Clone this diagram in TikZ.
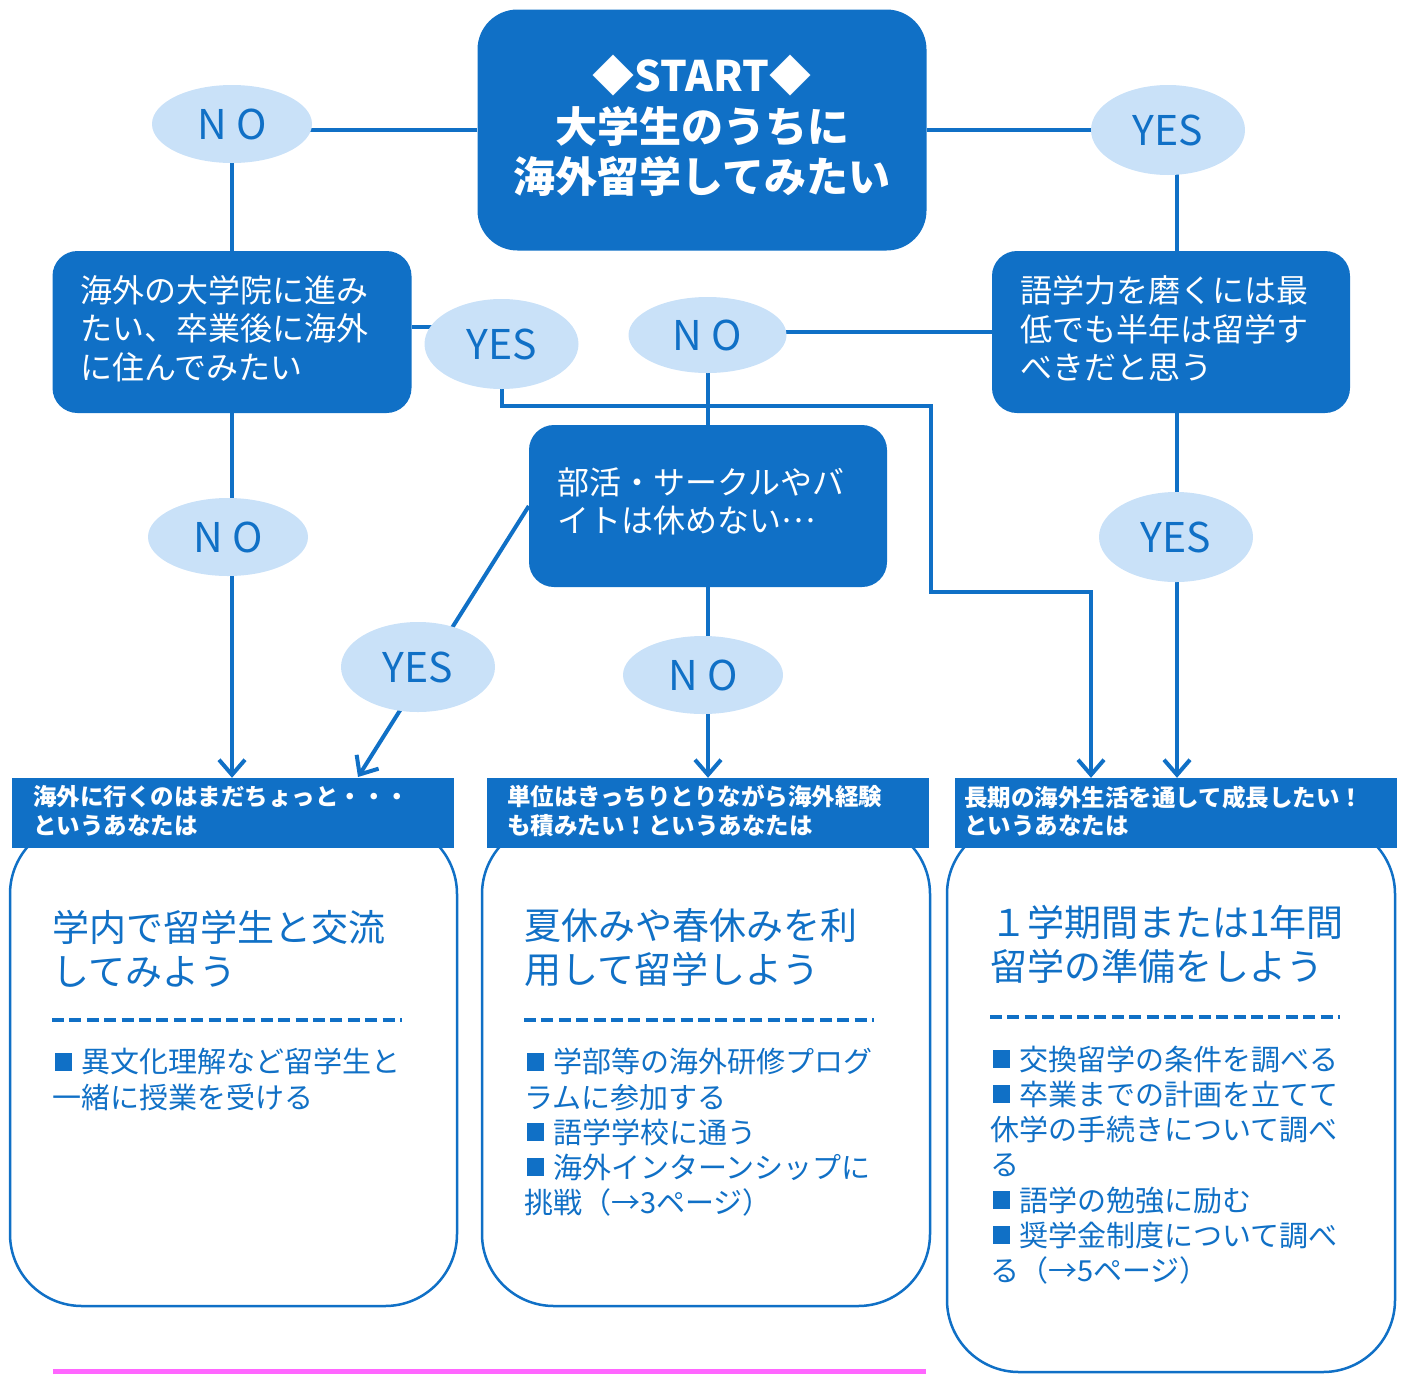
\documentclass[tikz,border=0pt]{standalone}
\usepackage{fontspec}
\setmainfont{Noto Sans CJK JP}
\usetikzlibrary{shapes.geometric,arrows.meta,backgrounds}
\definecolor{mblue}{RGB}{16,112,198}
\definecolor{lblue}{RGB}{201,225,248}
\definecolor{pinkline}{RGB}{255,102,255}
\newcommand\sqb{\makebox[29pt][l]{\hspace{3pt}\rule[2.2pt]{17pt}{18pt}}}
\newcommand\middots{\raisebox{10pt}{…}}
\begin{document}
\begin{tikzpicture}[x=1pt,y=-1pt,
  conn/.style={mblue,line width=4pt},
  arr/.style={conn,-{Straight Barb[length=15pt,width=26pt]}},
  ans/.style={ellipse,fill=lblue,inner sep=0pt,text=mblue,font=\fontsize{41}{48}\selectfont},
  qbox/.style={rectangle,rounded corners=25pt,fill=mblue,inner sep=0pt},
  qtext/.style={text=white,align=left,inner sep=0pt,anchor=west,font=\fontsize{32}{38.5}\selectfont},
  hbox/.style={rectangle,fill=mblue,inner sep=0pt,minimum width=442pt,minimum height=70pt},
  htext/.style={text=white,align=left,inner sep=0pt,anchor=west,font=\bfseries\fontsize{23.5}{28.5}\selectfont},
  body/.style={draw=mblue,line width=2.5pt,rounded corners=72pt,fill=white,inner sep=0pt},
  ttext/.style={text=mblue,align=left,inner sep=0pt,anchor=west,font=\fontsize{37}{44}\selectfont},
  btext/.style={text=mblue,align=left,inner sep=0pt,anchor=west,font=\fontsize{29}{35.2}\selectfont},
  dashln/.style={mblue,line width=3.5pt,dash pattern=on 12pt off 5.4pt},
]
\useasboundingbox (0,0) rectangle (1407,1374);

% start
\node[qbox,minimum width=449pt,minimum height=241pt,rounded corners=40pt] (start) at (702,130) {};
\node[text=white,align=center,inner sep=0pt,font=\bfseries\fontsize{42}{50.5}\selectfont] (starttext) at (702,126) {◆START◆\\大学生のうちに\\海外留学してみたい};

% answers
\node[ans,minimum width=160pt,minimum height=78pt] (no1) at (232,124) {N O};
\node[ans,minimum width=154pt,minimum height=90pt] (yes1) at (1168,130) {YES};
\node[ans,minimum width=154pt,minimum height=90pt] (yes2) at (501.5,344) {YES};
\node[ans,minimum width=158pt,minimum height=76pt] (no2) at (707.5,335) {N O};
\node[ans,minimum width=160pt,minimum height=78pt] (no3) at (228,537) {N O};
\node[ans,minimum width=154pt,minimum height=90pt] (yes3) at (418,667) {YES};
\node[ans,minimum width=160pt,minimum height=78pt] (no4) at (703,675) {N O};
\node[ans,minimum width=154pt,minimum height=90pt] (yes4) at (1176,537) {YES};

% questions
\node[qbox,minimum width=359pt,minimum height=162pt] (q2) at (232,332) {};
\node[qtext] (q2t) at (80,328.5) {海外の大学院に進み\\たい、卒業後に海外\\に住んでみたい};
\node[qbox,minimum width=358pt,minimum height=162pt] (q3) at (1171,332) {};
\node[qtext] (q3t) at (1020,328.5) {語学力を磨くには最\\低でも半年は留学す\\べきだと思う};
\node[qbox,minimum width=358pt,minimum height=162pt] (q4) at (708,506) {};
\node[qtext] (q4t) at (557,501.5) {部活・サークルやバ\\イトは休めない\middots};

% result bodies
\node[body,minimum width=447pt,minimum height=484pt] (b1) at (233.5,1064) {};
\node[body,minimum width=448pt,minimum height=484pt] (b2) at (706,1064) {};
\node[body,minimum width=448pt,minimum height=550pt] (b3) at (1171,1097) {};

% headers
\node[hbox] (h1) at (233,813) {};
\node[htext] (h1t) at (33,811) {海外に行くのはまだちょっと・・・\\というあなたは};
\node[hbox] (h2) at (708,813) {};
\node[htext] (h2t) at (507,811) {単位はきっちりとりながら海外経験\\も積みたい！というあなたは};
\node[hbox] (h3) at (1176,813) {};
\node[htext] (h3t) at (964,811) {長期の海外生活を通して成長したい！\\というあなたは};

% body texts
\node[ttext] (t1) at (52,948.5) {学内で留学生と交流\\してみよう};
\node[ttext] (t2) at (524,947.5) {夏休みや春休みを利\\用して留学しよう};
\node[ttext] (t3) at (990,944.5) {１学期間または1年間\\留学の準備をしよう};
\draw[dashln] (52,1020) -- (402,1020);
\draw[dashln] (524,1020) -- (874,1020);
\draw[dashln] (990,1017) -- (1340,1017);
\node[btext] (s1) at (52,1079.5) {\sqb 異文化理解など留学生と\\一緒に授業を受ける};
\node[btext] (s2) at (524,1132.5) {\sqb 学部等の海外研修プログ\\ラムに参加する\\\sqb 語学学校に通う\\\sqb 海外インターンシップに\\挑戦（→3ページ）};
\node[btext] (s3) at (990,1165) {\sqb 交換留学の条件を調べる\\\sqb 卒業までの計画を立てて\\休学の手続きについて調べ\\る\\\sqb 語学の勉強に励む\\\sqb 奨学金制度について調べ\\る（→5ページ）};

\draw[pinkline,line width=5pt] (53,1371.5) -- (926,1371.5);

% connectors
\coordinate (c1) at (931,406);
\coordinate (c2) at (1091,592);
\coordinate (a1) at (358,777);
\begin{scope}[on background layer]
\draw[conn] (start.west) -- (start.west -| no1.center);
\draw[conn] (start.east) -- (yes1.center);
\draw[conn] (no1.center) -- (no1.center |- q2.north);
\draw[conn] ([xshift=6pt]q3.north) -- ([xshift=6pt]q3.north |- yes1.center);
\draw[conn] ([yshift=5pt]q2.east) -- ([yshift=5pt]q2.east -| yes2.center);
\draw[conn] (q3.west) -- (q3.west -| no2.center);
\draw[conn] (no2.center) -- (no2.center |- q4.north);
\draw[arr] (yes2.center) |- (c1) |- (c2) -- (c2 |- h3.north);
\draw[arr] (q4.west) -- (a1);
\draw[arr] (q2.south) -- (q2.south |- h1.north);
\draw[arr] (q4.south) -- (q4.south |- h2.north);
\draw[arr] ([xshift=6pt]q3.south) -- ([xshift=6pt]q3.south |- h3.north);
\end{scope}
\end{tikzpicture}
\end{document}
